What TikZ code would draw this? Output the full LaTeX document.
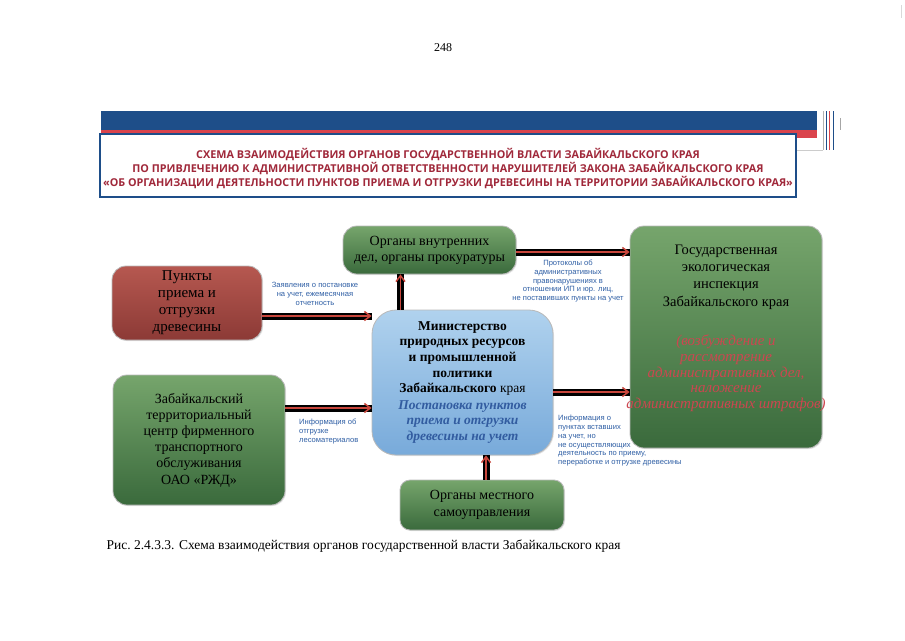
\documentclass[tikz,border=0pt]{standalone}
\usepackage{fontspec}
\setmainfont{Liberation Serif}
\setsansfont{Liberation Sans}
\newfontfamily\headfont{Open Sans}
\usetikzlibrary{positioning,arrows.meta,shadows,calc}

\definecolor{greenT}{RGB}{118,165,108}
\definecolor{greenB}{RGB}{58,106,60}
\definecolor{brickT}{RGB}{182,88,80}
\definecolor{brickB}{RGB}{140,58,54}
\definecolor{skyT}{RGB}{176,210,238}
\definecolor{skyB}{RGB}{120,170,218}
\definecolor{noteblue}{RGB}{47,95,165}
\definecolor{italblue}{RGB}{50,92,160}
\definecolor{rosered}{RGB}{205,70,80}
\definecolor{headred}{RGB}{160,40,58}
\definecolor{bandblue}{RGB}{30,78,137}
\definecolor{bandred}{RGB}{218,68,76}
\definecolor{flowred}{RGB}{200,70,60}

\begin{document}
\begin{tikzpicture}[x=1pt,y=-1pt,
  box/.style={rounded corners=14pt, draw=gray!55, line width=0.8pt, align=center,
    inner sep=2pt, drop shadow={opacity=0.2, shadow xshift=1pt, shadow yshift=-1pt}},
  greenbox/.style={box, top color=greenT, bottom color=greenB},
  brickbox/.style={box, top color=brickT, bottom color=brickB},
  skybox/.style={box, rounded corners=24pt, top color=skyT, bottom color=skyB},
  boxtext/.style={align=center, inner sep=0pt},
  flow/.style={line width=7pt, draw=black,
    postaction={draw=flowred, line width=1.5pt, -{Straight Barb[length=6pt,width=9pt]}}},
  note/.style={font=\sffamily\fontsize{7.6}{8.8}\selectfont, text=noteblue, inner sep=0pt}]

\useasboundingbox (0,0) rectangle (905,640);
\fill[white] (0,0) rectangle (905,640);

% page number
\node[font=\fontsize{12}{14}\selectfont] (pagenum) at (443,48) {248};

% header band
\fill[bandblue] (101,111) rectangle (817,130);
\fill[bandred] (101,130) rectangle (817,138);
\draw[gray!40, line width=0.6pt] (796,150) -- (823,150);
\draw[gray!60, line width=0.6pt] (823,111) -- (823,150);
\draw[bandblue, line width=0.8pt] (826,111) -- (826,150);
\draw[bandred, line width=0.8pt] (829,111) -- (829,150);
\draw[bandblue, line width=0.6pt] (833,111) -- (833,150);
\draw[gray!70, line width=0.8pt] (840,118) -- (840,130);
\draw[gray!30, line width=0.5pt] (901,5) -- (901,18);
\draw[bandblue, line width=1.5pt, fill=white] (100,134) rectangle (796,197);
\node[font=\headfont\bfseries\fontsize{10.8}{14}\selectfont, text=headred, align=center]
  (title) at (448,169) {СХЕМА ВЗАИМОДЕЙСТВИЯ ОРГАНОВ ГОСУДАРСТВЕННОЙ ВЛАСТИ ЗАБАЙКАЛЬСКОГО КРАЯ\\
  ПО ПРИВЛЕЧЕНИЮ К АДМИНИСТРАТИВНОЙ ОТВЕТСТВЕННОСТИ НАРУШИТЕЛЕЙ ЗАКОНА ЗАБАЙКАЛЬСКОГО КРАЯ\\
  «ОБ ОРГАНИЗАЦИИ ДЕЯТЕЛЬНОСТИ ПУНКТОВ ПРИЕМА И ОТГРУЗКИ ДРЕВЕСИНЫ НА ТЕРРИТОРИИ ЗАБАЙКАЛЬСКОГО КРАЯ»};

% boxes
\node[greenbox, minimum width=173pt, minimum height=48pt, font=\fontsize{14}{16}\selectfont]
  (ovd) at (429.5,250) {Органы внутренних\\дел, органы прокуратуры};
\node[brickbox, minimum width=150pt, minimum height=74pt, font=\fontsize{15}{17}\selectfont]
  (punkty) at (187,303) {Пункты\\приема и\\отгрузки\\древесины};
\node[greenbox, minimum width=192pt, minimum height=222pt] (inspec) at (726,337) {};
\node[boxtext, font=\fontsize{14.5}{17.3}\selectfont, below=19pt of inspec.north]
  (inspec-title) {Государственная\\экологическая\\инспекция\\Забайкальского края};
\node[boxtext, font=\itshape\fontsize{15}{15.8}\selectfont, text=rosered, below=25pt of inspec-title]
  (inspec-note) {(возбуждение и\\рассмотрение\\административных дел,\\наложение\\административных штрафов)};
\node[skybox, minimum width=181pt, minimum height=145pt, font=\fontsize{13.5}{15.6}\selectfont]
  (mins) at (462.5,382.5) {\textbf{Министерство}\\\textbf{природных ресурсов}\\\textbf{и промышленной}\\
  \textbf{политики}\\\textbf{Забайкальского} края\\[1pt]
  {\color{italblue}\bfseries\itshape Постановка пунктов}\\{\color{italblue}\bfseries\itshape приема и отгрузки}\\
  {\color{italblue}\bfseries\itshape древесины на учет}};
\node[greenbox, minimum width=172pt, minimum height=130pt, font=\fontsize{14}{16.2}\selectfont]
  (rzd) at (199,440) {Забайкальский\\территориальный\\центр фирменного\\транспортного\\обслуживания\\ОАО «РЖД»};
\node[greenbox, minimum width=164pt, minimum height=50pt, rounded corners=10pt, font=\fontsize{14}{17}\selectfont]
  (mestn) at (482,505) {Органы местного\\самоуправления};

% connectors
\draw[flow] ([yshift=-13pt]punkty.east) -- ([yshift=-13pt]punkty.east -| mins.west);
\draw[flow] ([xshift=-62pt]mins.north) -- ([xshift=-62pt]mins.north |- ovd.south);
\draw[flow] ([yshift=-2pt]ovd.east) -- ([yshift=-2pt]ovd.east -| inspec.west);
\draw[flow] ([yshift=-9.5pt]mins.east) -- ([yshift=-9.5pt]mins.east -| inspec.west);
\draw[flow] ([yshift=32pt]rzd.east) -- ([yshift=32pt]rzd.east -| mins.west);
\draw[flow] ([xshift=4pt]mestn.north) -- ([xshift=4pt]mestn.north |- mins.south);

% connector labels
\node[note, align=center] (lbl-zayav) at (315,294) {Заявления о постановке\\на учет, ежемесячная\\отчетность};
\node[note, align=center] (lbl-protok) at (568,281) {Протоколы об\\административных\\правонарушениях в\\отношении ИП и юр. лиц,\\не поставивших пункты на учет};
\node[note, align=left, anchor=north west] (lbl-otgr) at (299,419) {Информация об\\отгрузке\\лесоматериалов};
\node[note, align=left, anchor=north west] (lbl-punkt) at (558,415) {Информация о\\пунктах вставших\\на учет, но\\не осуществляющих\\деятельность по приему,\\переработке и отгрузке древесины};

% caption
\node[anchor=west, font=\fontsize{13.5}{15}\selectfont] (caption) at (103,546)
  {Рис.~2.4.3.3. Схема взаимодействия органов государственной власти Забайкальского края};

\end{tikzpicture}
\end{document}
